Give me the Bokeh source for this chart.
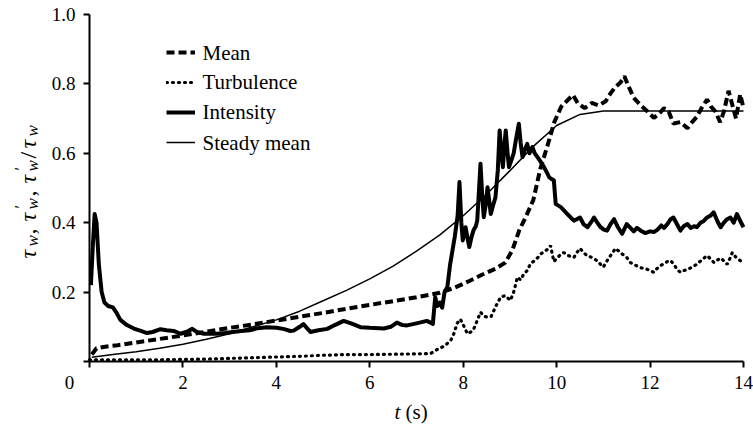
import numpy as np
from bokeh.plotting import figure
from bokeh.models import Range1d, FixedTicker, Legend, LegendItem, Label, LinearAxis
from bokeh.embed import file_html
from bokeh.resources import INLINE

FONT = "Liberation Serif"

# ---------------- data ----------------
x_ticks = [0, 2, 4, 6, 8, 10, 12, 14]
x_tick_labels = ["0", "2", "4", "6", "8", "10", "12", "14"]
y_ticks = [0, 0.2, 0.4, 0.6, 0.8, 1.0]
y_tick_labels = ["", "0.2", "0.4", "0.6", "0.8", "1.0"]

t_steady = [0.05, 0.5, 1, 1.5, 2, 2.5, 3, 3.5, 4, 4.5, 5, 5.5, 6, 6.5, 7, 7.5, 8,
            8.5, 9, 9.5, 10, 10.5, 11, 12, 13, 14]
v_steady = [0.012, 0.02, 0.028, 0.038, 0.05, 0.064, 0.08, 0.1, 0.12, 0.145, 0.175,
            0.205, 0.238, 0.275, 0.318, 0.365, 0.42, 0.482, 0.55, 0.62, 0.68, 0.712,
            0.722, 0.722, 0.722, 0.722]

t_mean = [0.05, 0.15, 0.3, 0.6, 1, 1.5, 2, 2.5, 3, 3.5, 4, 4.5, 5, 5.5, 6, 6.5, 7,
          7.5, 7.8, 8.1, 8.4, 8.7, 8.9, 9.05, 9.2, 9.35, 9.5, 9.65, 9.8, 9.95, 10.1,
          10.25, 10.35, 10.45, 10.6, 10.75, 10.9, 11.05, 11.15, 11.25, 11.37, 11.45,
          11.55, 11.65, 11.8, 11.95, 12.08, 12.2, 12.3, 12.4, 12.5, 12.65, 12.8, 12.9,
          13.0, 13.1, 13.22, 13.3, 13.4, 13.5, 13.58, 13.68, 13.76, 13.84, 13.93, 14.0]
v_mean = [0.02, 0.038, 0.042, 0.047, 0.055, 0.065, 0.075, 0.086, 0.097, 0.107, 0.118,
          0.129, 0.14, 0.152, 0.163, 0.174, 0.185, 0.198, 0.212, 0.23, 0.25, 0.268,
          0.285, 0.32, 0.378, 0.42, 0.465, 0.555, 0.62, 0.69, 0.735, 0.755, 0.768,
          0.745, 0.73, 0.745, 0.738, 0.75, 0.772, 0.79, 0.805, 0.822, 0.79, 0.76,
          0.738, 0.72, 0.702, 0.715, 0.73, 0.72, 0.686, 0.69, 0.672, 0.69, 0.705,
          0.73, 0.755, 0.735, 0.72, 0.69, 0.72, 0.78, 0.74, 0.70, 0.77, 0.73]

t_turb = [0.0, 0.5, 1, 1.5, 2, 2.5, 3, 3.5, 4, 4.5, 5, 5.5, 6, 6.5, 7, 7.3, 7.45, 7.6,
          7.73, 7.8, 7.87, 7.94, 8.02, 8.09, 8.16, 8.22, 8.3, 8.37, 8.45, 8.52, 8.6,
          8.7, 8.8, 8.9, 9.01, 9.08, 9.16, 9.23, 9.3, 9.37, 9.44, 9.52, 9.6, 9.66,
          9.75, 9.82, 9.87, 9.94, 10.02, 10.1, 10.15, 10.25, 10.37, 10.44, 10.5,
          10.57, 10.65, 10.75, 10.87, 10.94, 11.0, 11.1, 11.18, 11.26, 11.33, 11.4,
          11.5, 11.58, 11.68, 11.8, 11.9, 12.0, 12.08, 12.15, 12.22, 12.3, 12.37,
          12.44, 12.52, 12.58, 12.65, 12.72, 12.8, 12.9, 13.0, 13.1, 13.22, 13.3,
          13.37, 13.44, 13.51, 13.58, 13.65, 13.72, 13.76, 13.84, 13.94, 14.0]
v_turb = [0.005, 0.005, 0.005, 0.005, 0.006, 0.007, 0.009, 0.011, 0.013, 0.015, 0.018,
          0.02, 0.02, 0.021, 0.022, 0.023, 0.035, 0.045, 0.06, 0.08, 0.11, 0.122, 0.1,
          0.08, 0.085, 0.092, 0.118, 0.142, 0.13, 0.128, 0.13, 0.16, 0.185, 0.19,
          0.176, 0.2, 0.243, 0.235, 0.253, 0.262, 0.282, 0.29, 0.3, 0.31, 0.318,
          0.325, 0.334, 0.288, 0.3, 0.31, 0.314, 0.305, 0.3, 0.315, 0.326, 0.315,
          0.305, 0.3, 0.29, 0.28, 0.272, 0.295, 0.31, 0.326, 0.318, 0.31, 0.3, 0.285,
          0.278, 0.27, 0.268, 0.262, 0.257, 0.268, 0.276, 0.282, 0.288, 0.291, 0.278,
          0.265, 0.257, 0.262, 0.265, 0.272, 0.28, 0.292, 0.305, 0.295, 0.285, 0.292,
          0.298, 0.29, 0.28, 0.3, 0.314, 0.3, 0.29, 0.282]

t_int = [0.03, 0.07, 0.11, 0.15, 0.2, 0.26, 0.32, 0.4, 0.5, 0.58, 0.66, 0.8, 0.95,
         1.1, 1.23, 1.35, 1.52, 1.65, 1.8, 1.95, 2.1, 2.2, 2.3, 2.45, 2.6, 2.72, 2.9,
         3.07, 3.25, 3.43, 3.6, 3.8, 4.0, 4.15, 4.3, 4.37, 4.5, 4.58, 4.65, 4.73, 4.9,
         5.09, 5.25, 5.44, 5.6, 5.8, 6.0, 6.3, 6.45, 6.58, 6.7, 6.8, 7.0, 7.22, 7.3,
         7.35, 7.4, 7.45, 7.5, 7.55, 7.6, 7.66, 7.72, 7.77, 7.82, 7.88, 7.92, 7.96,
         7.99, 8.05, 8.1, 8.13, 8.18, 8.22, 8.27, 8.3, 8.34, 8.37, 8.41, 8.44, 8.48,
         8.52, 8.56, 8.59, 8.64, 8.69, 8.74, 8.78, 8.82, 8.85, 8.88, 8.91, 8.95, 8.98,
         9.03, 9.08, 9.13, 9.19, 9.23, 9.27, 9.32, 9.37, 9.42, 9.48, 9.53, 9.59, 9.66,
         9.73, 9.79, 9.84, 9.9, 9.94, 9.98, 10.03, 10.09, 10.16, 10.23, 10.3, 10.37,
         10.43, 10.5, 10.58, 10.66, 10.73, 10.8, 10.87, 10.94, 11.01, 11.08, 11.15,
         11.23, 11.3, 11.4, 11.5, 11.58, 11.65, 11.72, 11.8, 11.9, 12.0, 12.08,
         12.16, 12.24, 12.3, 12.37, 12.44, 12.5, 12.58, 12.65, 12.72, 12.8, 12.87,
         12.94, 13.0, 13.08, 13.15, 13.22, 13.29, 13.36, 13.44, 13.51, 13.58, 13.65,
         13.72, 13.79, 13.86, 13.93, 14.0]
v_int = [0.22, 0.33, 0.425, 0.4, 0.28, 0.2, 0.17, 0.16, 0.156, 0.14, 0.12, 0.105,
         0.095, 0.088, 0.082, 0.085, 0.093, 0.09, 0.088, 0.08, 0.087, 0.094, 0.085,
         0.08, 0.08, 0.08, 0.082, 0.085, 0.088, 0.09, 0.096, 0.099, 0.097, 0.094,
         0.088, 0.089, 0.1, 0.108, 0.097, 0.085, 0.09, 0.094, 0.105, 0.117, 0.11,
         0.099, 0.097, 0.095, 0.1, 0.112, 0.105, 0.104, 0.11, 0.117, 0.112, 0.108,
         0.185, 0.16, 0.17, 0.155, 0.2, 0.214, 0.28, 0.32, 0.36, 0.42, 0.517, 0.4,
         0.349, 0.387, 0.35, 0.33, 0.36, 0.378, 0.39, 0.406, 0.5, 0.57, 0.47, 0.416,
         0.45, 0.502, 0.46, 0.425, 0.45, 0.473, 0.55, 0.666, 0.6, 0.56, 0.62, 0.666,
         0.6, 0.56, 0.58, 0.6, 0.64, 0.685, 0.63, 0.589, 0.61, 0.627, 0.6, 0.618,
         0.6, 0.589, 0.575, 0.56, 0.545, 0.531, 0.525, 0.522, 0.454, 0.45, 0.445,
         0.435, 0.425, 0.415, 0.406, 0.41, 0.415, 0.395, 0.387, 0.4, 0.415, 0.4,
         0.387, 0.38, 0.377, 0.395, 0.41, 0.39, 0.368, 0.396, 0.385, 0.375, 0.385,
         0.377, 0.37, 0.375, 0.373, 0.38, 0.392, 0.385, 0.396, 0.41, 0.415, 0.395,
         0.377, 0.39, 0.396, 0.385, 0.39, 0.387, 0.4, 0.405, 0.415, 0.42, 0.43,
         0.405, 0.387, 0.4, 0.41, 0.415, 0.4, 0.425, 0.405, 0.387]

series_names = ["Mean", "Turbulence", "Intensity", "Steady mean"]

# ---------------- layout (pixels) ----------------
W, H = 753, 425
FL, FT, FW, FH = 89, 14, 654, 347          # plotting area left/top/width/height
XMIN, XMAX, YMIN, YMAX = 0, 14, 0, 1.0
PX_X = FW / (XMAX - XMIN)
PX_Y = FH / (YMAX - YMIN)

def dx(px):
    return XMIN + (px - FL) / PX_X

def dy(py):
    return YMIN + (FT + FH - py) / PX_Y

p = figure(width=W, height=H,
           x_range=Range1d(dx(0), dx(W)), y_range=Range1d(dy(H), dy(0)),
           output_backend="svg", toolbar_location=None,
           x_axis_location=None, y_axis_location=None, min_border=0)
p.outline_line_color = None
p.background_fill_color = "white"
p.border_fill_color = "white"
for g in p.grid:
    g.visible = False

# axes drawn through Bokeh at the data origin
xax = LinearAxis(fixed_location=YMIN, bounds=(XMIN, XMAX),
                 ticker=FixedTicker(ticks=x_ticks))
yax = LinearAxis(fixed_location=XMIN, bounds=(YMIN, YMAX),
                 ticker=FixedTicker(ticks=y_ticks))
for ax in (xax, yax):
    ax.axis_line_color = "black"
    ax.axis_line_width = 2
    ax.major_tick_line_color = "black"
    ax.major_tick_line_width = 2
    ax.major_tick_out = 6
    ax.major_tick_in = 0
    ax.minor_tick_line_color = None
    ax.major_label_text_color = None
p.add_layout(xax, "below")
p.add_layout(yax, "left")

r_mean = p.line(t_mean, v_mean, line_color="black", line_width=4, line_dash="8 4")
r_turb = p.line(t_turb, v_turb, line_color="black", line_width=3.2, line_dash="1 5",
                line_cap="round")
r_int = p.line(t_int, v_int, line_color="black", line_width=4, line_join="round")
r_std = p.line(t_steady, v_steady, line_color="black", line_width=1.5)

def put(text, x, y, size, italic=False, angle=0.0, align="center", base="middle"):
    p.add_layout(Label(x=x, y=y, text=text, text_font=FONT,
                       text_font_size=f"{size}px",
                       text_font_style="italic" if italic else "normal",
                       text_color="black", angle=angle, text_align=align,
                       text_baseline=base))

# tick labels (serif) at the tick values, through the data scales
for tv, tl in zip(x_ticks[1:], x_tick_labels[1:]):
    put(tl, tv, dy(382), 19)
put(x_tick_labels[0], dx(69), dy(382), 19)          # shared origin label
for tv, tl in zip(y_ticks[1:], y_tick_labels[1:]):
    put(tl, dx(75), tv, 19, align="right")

# legend: Bokeh legend for the keys, serif labels next to them
legend = Legend(items=[LegendItem(label=series_names[0], renderers=[r_mean]),
                       LegendItem(label=series_names[1], renderers=[r_turb]),
                       LegendItem(label=series_names[2], renderers=[r_int]),
                       LegendItem(label=series_names[3], renderers=[r_std])],
                location=(166, 272), padding=0, margin=0,
                border_line_color=None, background_fill_alpha=0,
                label_text_color=None,
                glyph_width=29, glyph_height=22, label_height=22, spacing=8,
                label_standoff=0)
p.add_layout(legend, "center")
for name, py in zip(series_names, [52, 81, 111, 142]):
    put(name, dx(202), dy(py), 21, align="left")

# x title
put("t", dx(394), dy(411), 21, italic=True, align="left", base="alphabetic")
put("(s)", dx(405), dy(411), 21, align="left", base="alphabetic")

# y title (rotated, reading upward)
BASE_X = 27
main, sub = 24, 17
pieces = [("τ", 258, 0, main, True), ("w", 246, 5, sub, True), (",", 234, 0, main, False),
          ("τ", 221, 0, main, True), ("′", 208, -7, sub, False), ("w", 209, 5, sub, True),
          (",", 196, 0, main, False),
          ("τ", 183, 0, main, True), ("′", 170, -7, sub, False), ("w", 171, 5, sub, True),
          ("/", 158, 0, main, False), ("τ", 148, 0, main, True), ("w", 136, 5, sub, True)]
for txt, py, off, sz, it in pieces:
    put(txt, dx(BASE_X + off), dy(py), sz, italic=it, angle=np.pi / 2, align="left",
        base="alphabetic")

open("out.html", "w").write(file_html(p, INLINE))
